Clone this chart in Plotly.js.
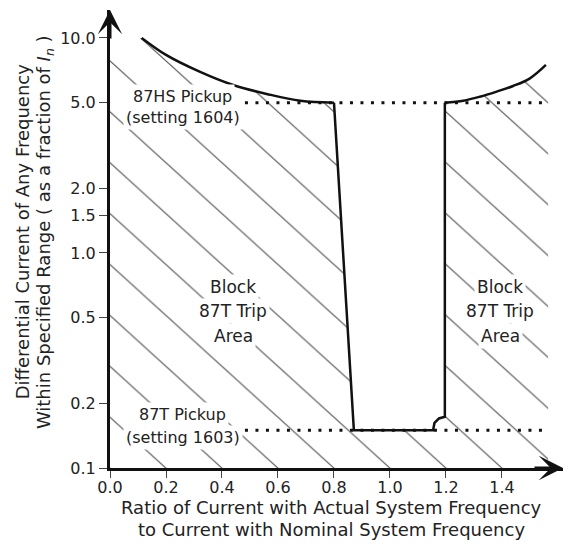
<!DOCTYPE html>
<html><head><meta charset="utf-8">
<script src="https://cdn.plot.ly/plotly-3.0.1.min.js"></script>
<style>html,body{margin:0;padding:0;background:#fff}#chart{width:565px;height:547px}</style>
</head><body><div id="chart"></div><script>
// Upper restraint curve, left of the pass band
const leftCurveX = [0.113, 0.20, 0.32, 0.44, 0.56, 0.68, 0.80];
const leftCurveY = [10.0, 8.34, 6.97, 6.04, 5.49, 5.10, 5.0];
// Pass band (trip region) boundary
const notchX = [0.80, 0.871, 1.154, 1.159, 1.175, 1.196, 1.196];
const notchY = [5.0, 0.15, 0.15, 0.162, 0.170, 0.173, 5.0];
// Upper restraint curve, right of the pass band
const rightCurveX = [1.196, 1.262, 1.321, 1.381, 1.44, 1.50, 1.557];
const rightCurveY = [5.0, 5.11, 5.33, 5.63, 5.98, 6.49, 7.49];
// Pickup settings
const hsPickup = 5.0;      // 87HS pickup (setting 1604)
const tPickup = 0.15;      // 87T pickup (setting 1603)
const pickupX = [0.482, 1.565];
// Region limits
const xMin = 0.0, xMax = 1.565, yMin = 0.1, yMax = 10.0;
// Tick labels
const xTickVals = [0, 0.2, 0.4, 0.6, 0.8, 1.0, 1.2, 1.4];
const xTickText = ['0.0', '0.2', '0.4', '0.6', '0.8', '1.0', '1.2', '1.4'];
const yTickVals = [0.1, 0.2, 0.5, 1.0, 1.5, 2.0, 5.0, 10.0];
const yTickText = ['0.1', '0.2', '0.5', '1.0', '1.5', '2.0', '5.0', '10.0'];

const FONT = 'DejaVu Sans';
const TXT = '#222';

const blockX = [xMin, xMin].concat(leftCurveX, notchX, rightCurveX, [xMax, xMax]);
const blockY = [yMin, yMax].concat(leftCurveY, notchY, rightCurveY, [rightCurveY[rightCurveY.length-1], yMin]);

const traces = [
  {x: blockX, y: blockY, type: 'scatter', mode: 'lines', fill: 'toself',
   fillcolor: 'white', line: {width: 0}, hoverinfo: 'skip',
   fillpattern: {shape: '\\', size: 36, solidity: 0.03, fgcolor: '#555', bgcolor: 'white', fillmode: 'replace'}},
  {x: pickupX, y: [hsPickup, hsPickup], type: 'scatter', mode: 'lines',
   line: {color: '#111', width: 3, dash: '3px,7.5px'}, hoverinfo: 'skip'},
  {x: pickupX, y: [tPickup, tPickup], type: 'scatter', mode: 'lines',
   line: {color: '#111', width: 3, dash: '3px,7.5px'}, hoverinfo: 'skip'},
  {x: leftCurveX, y: leftCurveY, type: 'scatter', mode: 'lines',
   line: {color: '#111', width: 2.5, shape: 'spline'}, hoverinfo: 'skip'},
  {x: notchX, y: notchY, type: 'scatter', mode: 'lines',
   line: {color: '#111', width: 2.5}, hoverinfo: 'skip'},
  {x: rightCurveX, y: rightCurveY, type: 'scatter', mode: 'lines',
   line: {color: '#111', width: 2.5, shape: 'spline'}, hoverinfo: 'skip'}
];

function lbl(x, y, text, size) {
  return {x: x, y: Math.log10(y), xref: 'x', yref: 'y', text: text, showarrow: false,
    font: {family: FONT, size: size || 16, color: TXT}, bgcolor: 'white', borderpad: 2,
    xanchor: 'center', yanchor: 'middle'};
}
function ptxt(x, y, text, angle) {
  return {x: x, y: y, xref: 'paper', yref: 'paper', text: text, showarrow: false,
    font: {family: FONT, size: 18, color: TXT}, xanchor: 'center', yanchor: 'middle',
    textangle: angle || 0};
}

const annotations = [
  lbl(0.26, 5.37, '87HS Pickup'),
  lbl(0.26, 4.25, '(setting 1604)'),
  lbl(0.26, 0.178, '87T Pickup'),
  lbl(0.26, 0.139, '(setting 1603)'),
  lbl(0.44, 0.695, 'Block', 17), lbl(0.44, 0.537, '87T Trip', 17), lbl(0.44, 0.411, 'Area', 17),
  lbl(1.393, 0.695, 'Block', 17), lbl(1.393, 0.537, '87T Trip', 17), lbl(1.393, 0.411, 'Area', 17),
  ptxt(0.488, -0.0852, 'Ratio of Current with Actual System Frequency'),
  ptxt(0.488, -0.1332, 'to Current with Nominal System Frequency'),
  ptxt(-0.194, 0.515, 'Differential Current of Any Frequency', -90),
  ptxt(-0.1435, 0.515, 'Within Specified Range ( as a fraction of <i>I<sub>n</sub></i> )', -90),
  {x: 1, y: 0, xref: 'paper', yref: 'paper', ax: -30, ay: 0, text: '', showarrow: true,
   arrowhead: 3, arrowsize: 1.35, arrowwidth: 3, arrowcolor: '#111'},
  {x: 0, y: 1, xref: 'paper', yref: 'paper', ax: 0, ay: 30, text: '', showarrow: true,
   arrowhead: 3, arrowsize: 1.35, arrowwidth: 3, arrowcolor: '#111'}
];

const layout = {
  width: 565, height: 547,
  margin: {l: 110, r: 2, t: 10, b: 79},
  paper_bgcolor: 'white', plot_bgcolor: 'white',
  showlegend: false,
  xaxis: {range: [0, 1.618], showline: true, linewidth: 3, linecolor: '#111',
    ticks: 'outside', ticklen: 7, tickwidth: 1, tickcolor: '#444', ticklabelstandoff: -4,
    tickvals: xTickVals, ticktext: xTickText, showgrid: false, zeroline: false,
    tickfont: {family: FONT, size: 16, color: TXT}},
  yaxis: {type: 'log', range: [-1, 1.130], showline: true, linewidth: 3, linecolor: '#111',
    ticks: 'outside', ticklen: 8, tickwidth: 1, tickcolor: '#444',
    tickvals: yTickVals, ticktext: yTickText, showgrid: false, zeroline: false,
    tickfont: {family: FONT, size: 16, color: TXT}},
  annotations: annotations
};

Plotly.newPlot('chart', traces, layout, {displayModeBar: false, staticPlot: true}).then(function (gd) {
  // stretch the hatch tile a little horizontally so the lines are shallower, as in the reference
  gd.querySelectorAll('pattern').forEach(function (p) {
    p.setAttribute('patternTransform', 'scale(1.1,1)');
  });
});
</script></body></html>
